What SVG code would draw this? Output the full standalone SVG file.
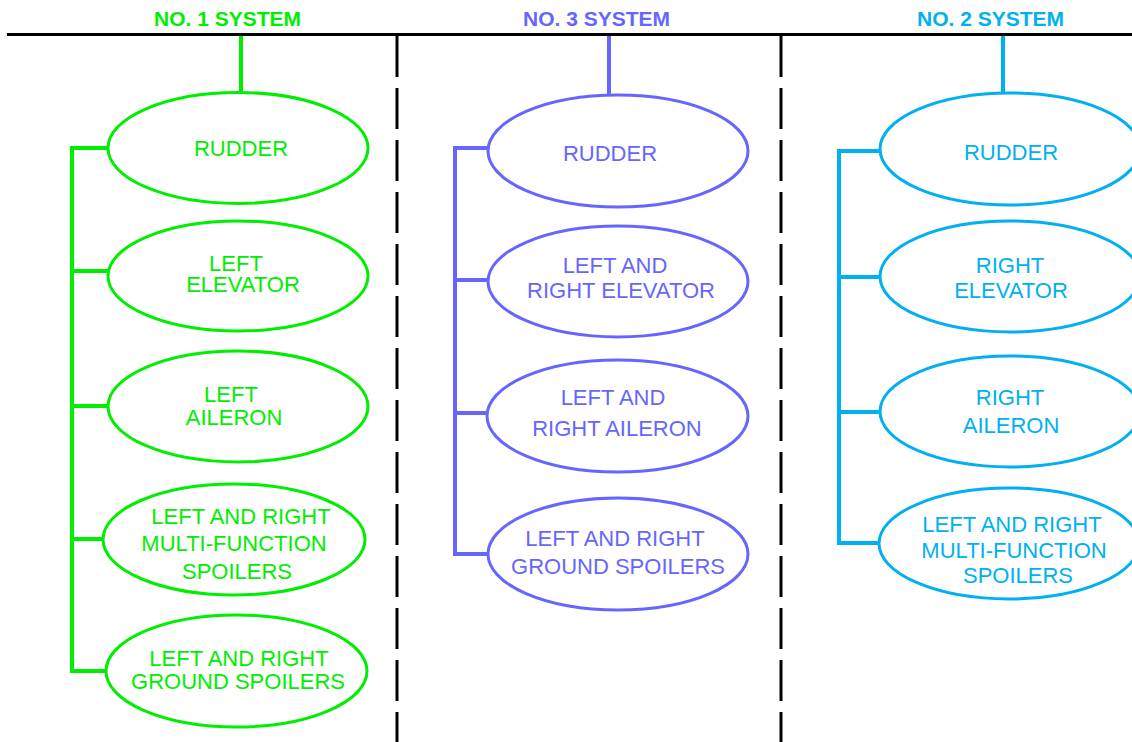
<svg xmlns="http://www.w3.org/2000/svg" width="1132" height="742" viewBox="0 0 1132 742">
<style>
.t{font-family:"Liberation Sans",Arial,sans-serif;font-size:22px;text-anchor:middle}
.h{font-family:"Liberation Sans",Arial,sans-serif;font-size:21px;font-weight:bold;text-anchor:middle}
.g{fill:#00EE00}.p{fill:#6666FF}.b{fill:#00B0F0}
ellipse{fill:#fff;stroke-width:3}
.ge{stroke:#00EE00}.pe{stroke:#6666FF}.be{stroke:#00B0F0}
.ln{fill:none;stroke-width:4}
</style>
<rect width="1132" height="742" fill="#fff"/>
<g id="frame">
<line x1="7" y1="34.5" x2="1132" y2="34.5" stroke="#000" stroke-width="3"/>
<line x1="397" y1="36" x2="397" y2="742" stroke="#000" stroke-width="3" stroke-dasharray="41 11"/>
<line x1="781" y1="36" x2="781" y2="742" stroke="#000" stroke-width="3" stroke-dasharray="41 11"/>
<text class="h g" x="227.5" y="26">NO. 1 SYSTEM</text>
<text class="h p" x="596.5" y="26">NO. 3 SYSTEM</text>
<text class="h b" x="990.5" y="26">NO. 2 SYSTEM</text>
</g>
<g id="connectors">
<path class="ln" stroke="#00EE00" d="M241 36V92M108 148H72V671H106M72 271H108M72 406H108M72 539H103"/>
<path class="ln" stroke="#6666FF" d="M609 36V95M488 148H455V554H488M455 280H488M455 413H487"/>
<path class="ln" stroke="#00B0F0" d="M1003 36V93M880 151H839V543H879M839 277H880M839 412H880"/>
</g>
<g id="g1"><ellipse class="ge" cx="238" cy="148" rx="130" ry="55.5"/><text class="t g" x="241" y="156">RUDDER</text></g>
<g id="g2"><ellipse class="ge" cx="238" cy="276" rx="130" ry="55"/><text class="t g" x="236" y="271">LEFT</text><text class="t g" x="243" y="292">ELEVATOR</text></g>
<g id="g3"><ellipse class="ge" cx="238" cy="406.5" rx="130" ry="55.5"/><text class="t g" x="231" y="402">LEFT</text><text class="t g" x="234" y="425">AILERON</text></g>
<g id="g4"><ellipse class="ge" cx="234" cy="539.5" rx="131" ry="55.5"/><text class="t g" x="241" y="524">LEFT AND RIGHT</text><text class="t g" x="234" y="551">MULTI-FUNCTION</text><text class="t g" x="237" y="579">SPOILERS</text></g>
<g id="g5"><ellipse class="ge" cx="236.5" cy="671" rx="130.5" ry="56"/><text class="t g" x="239" y="666">LEFT AND RIGHT</text><text class="t g" x="238" y="689">GROUND SPOILERS</text></g>
<g id="p1"><ellipse class="pe" cx="618" cy="151" rx="130" ry="56"/><text class="t p" x="610" y="161">RUDDER</text></g>
<g id="p2"><ellipse class="pe" cx="618" cy="281.5" rx="130" ry="55.5"/><text class="t p" x="615" y="273">LEFT AND</text><text class="t p" x="621" y="298">RIGHT ELEVATOR</text></g>
<g id="p3"><ellipse class="pe" cx="617.5" cy="416" rx="130.5" ry="56"/><text class="t p" x="613" y="405">LEFT AND</text><text class="t p" x="617" y="436">RIGHT AILERON</text></g>
<g id="p4"><ellipse class="pe" cx="618" cy="554" rx="130" ry="56"/><text class="t p" x="615" y="546">LEFT AND RIGHT</text><text class="t p" x="618" y="574">GROUND SPOILERS</text></g>
<g id="b1"><ellipse class="be" cx="1010" cy="149" rx="130" ry="56"/><text class="t b" x="1011" y="160">RUDDER</text></g>
<g id="b2"><ellipse class="be" cx="1010" cy="276.5" rx="130" ry="55.5"/><text class="t b" x="1010" y="273">RIGHT</text><text class="t b" x="1011" y="298">ELEVATOR</text></g>
<g id="b3"><ellipse class="be" cx="1010" cy="411.5" rx="130" ry="55.5"/><text class="t b" x="1010" y="405">RIGHT</text><text class="t b" x="1011" y="433">AILERON</text></g>
<g id="b4"><ellipse class="be" cx="1009" cy="543.5" rx="130" ry="55.5"/><text class="t b" x="1012" y="532">LEFT AND RIGHT</text><text class="t b" x="1014" y="558">MULTI-FUNCTION</text><text class="t b" x="1018" y="583">SPOILERS</text></g>
</svg>
